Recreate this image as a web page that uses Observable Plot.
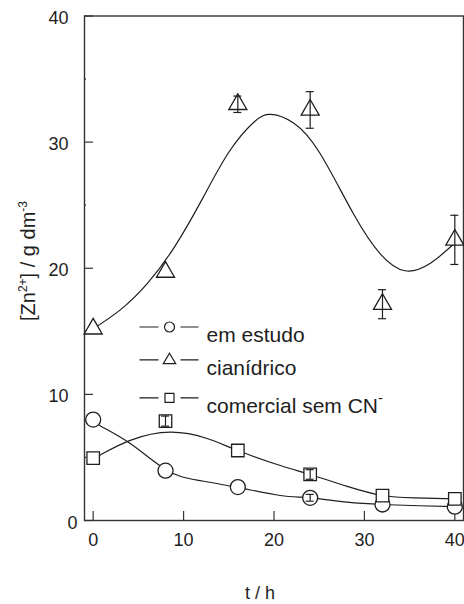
<!DOCTYPE html>
<html>
<head>
<meta charset="utf-8">
<script src="https://cdn.jsdelivr.net/npm/d3@7"></script>
<script src="https://cdn.jsdelivr.net/npm/@observablehq/plot@0.6"></script>
<style>
  html, body { margin: 0; padding: 0; background: #fff; }
  #chart { width: 464px; height: 604px; }
</style>
</head>
<body>
<div id="chart"></div>
<script>
// ---- data ----
const times = [0, 8, 16, 24, 32, 40];
const emEstudo = [8.0, 3.95, 2.65, 1.8, 1.27, 1.1];
const cianidrico = [15.2, 19.7, 33.0, 32.55, 17.15, 22.25];
const comercial = [4.95, 7.88, 5.55, 3.65, 1.98, 1.72];
const errEmEstudo = [0, 0, 0, 0.27, 0, 0];
const errCianidrico = [0, 0, 0.65, 1.45, 1.15, 1.95];
const errComercial = [0, 0.4, 0, 0.38, 0, 0];

// fitted curves
const emCurveT = [0, 0.8, 4.1, 8.1, 11.5, 16, 20.7, 24, 28.1, 32, 36, 40];
const emCurveV = [8.0, 7.5, 6.1, 4.0, 3.2, 2.62, 1.98, 1.8, 1.45, 1.27, 1.17, 1.1];
const cianCurveT = [0, 3, 6, 9, 12, 15, 17.8, 19.7, 22.2, 25.1, 28.8, 31.8, 34.5, 37.3, 40];
const cianCurveV = [15.2, 16.7, 18.8, 21.7, 25.4, 29.2, 31.6, 32.2, 31.5, 29.1, 24.3, 21.1, 19.8, 20.4, 22.0];
const comCurveT = [0, 0.8, 4.1, 8.55, 12.6, 16, 20.7, 24, 28.1, 32, 35.5, 40];
const comCurveV = [4.95, 5.2, 6.35, 7.0, 6.5, 5.55, 4.36, 3.65, 2.7, 1.98, 1.8, 1.72];

const xTicks = [0, 10, 20, 30, 40];
const yTicks = [0, 10, 20, 30, 40];
const yMinorTicks = [5, 15, 25, 35];

const seriesNames = ["em estudo", "cianídrico", "comercial sem CN"];
const seriesShapes = ["circle", "triangle", "square"];

// ---- tables ----
const pts = [];
[emEstudo, cianidrico, comercial].forEach((vals, s) => {
  const errs = [errEmEstudo, errCianidrico, errComercial][s];
  vals.forEach((v, i) => pts.push({series: seriesNames[s], shape: seriesShapes[s], t: times[i], v, e: errs[i]}));
});
const errPts = pts.filter(d => d.e > 0);
const caps = errPts.flatMap(d => [{t: d.t, y: d.v - d.e}, {t: d.t, y: d.v + d.e}]);
const curves = [];
[[emCurveT, emCurveV], [cianCurveT, cianCurveV], [comCurveT, comCurveV]].forEach(([T, V], s) => {
  T.forEach((t, i) => curves.push({series: seriesNames[s], t, v: V[i]}));
});

const rSize = {circle: 7.5, triangle: 6.7, square: 7.05};

function legendSymbol(shape) {
  return {
    draw(ctx) {
      ctx.moveTo(-30, 0); ctx.lineTo(-11, 0);
      ctx.moveTo(11, 0); ctx.lineTo(29, 0);
      if (shape === "circle") { ctx.moveTo(5, 0); ctx.arc(0, 0, 5, 0, 2 * Math.PI); }
      else if (shape === "square") { ctx.rect(-4.5, -4.5, 9, 9); }
      else { ctx.moveTo(0, -6.6); ctx.lineTo(6.2, 3.8); ctx.lineTo(-6.2, 3.8); ctx.closePath(); }
    }
  };
}
const legendDy = [311, 343.8, 381.8];

const ink = "#1e1e1e";
const legendMarks = seriesNames.flatMap((name, i) => [
  Plot.dot([name], {frameAnchor: "top-left", dx: 85, dy: legendDy[i], symbol: legendSymbol(seriesShapes[i]), r: 1, stroke: ink, strokeWidth: 1.2, fill: "white"}),
  Plot.text([name], {frameAnchor: "top-left", dx: 122, dy: legendDy[i] + 0.5, text: d => d, textAnchor: "start", fontSize: 21, fill: ink})
]);

const dotMarks = seriesShapes.map(shape =>
  Plot.dot(pts.filter(d => d.shape === shape), {x: "t", y: "v", symbol: shape, r: rSize[shape], stroke: ink, strokeWidth: 1.3, fill: "white"})
);

const chart = Plot.plot({
  width: 464,
  height: 604,
  marginLeft: 84,
  marginRight: 1,
  marginTop: 15.5,
  marginBottom: 84,
  x: {domain: [-0.96, 40.96]},
  y: {domain: [0, 40]},
  style: {fontFamily: "'Liberation Sans', Arial, sans-serif", fontSize: "18px", color: ink, background: "white"},
  marks: [
    Plot.frame({stroke: "#333", strokeWidth: 1.4}),
    Plot.tickX(xTicks, {x: d => d, insetTop: 495.5, stroke: "#333", strokeWidth: 1.2}),
    Plot.tickY(yTicks, {y: d => d, insetRight: 370, stroke: "#333", strokeWidth: 1.2}),
    Plot.tickY(yMinorTicks, {y: d => d, insetRight: 377, stroke: "#333", strokeWidth: 1.2}),
    Plot.axisX(xTicks, {tickSize: 0, tickPadding: 13, label: null, fontSize: 18}),
    Plot.axisY(yTicks.filter(d => d > 0), {tickSize: 0, tickPadding: 16, dy: 2, label: null, fontSize: 18}),
    Plot.axisY(yTicks.filter(d => d === 0), {tickSize: 0, tickPadding: 7, dy: 3, label: null, fontSize: 18}),
    Plot.line(curves, {x: "t", y: "v", z: "series", curve: "natural", stroke: ink, strokeWidth: 1.2}),
    ...dotMarks,
    Plot.ruleX(errPts, {x: "t", y1: d => d.v - d.e, y2: d => d.v + d.e, stroke: ink, strokeWidth: 1.2}),
    Plot.ruleY(caps, {y: "y", x1: "t", x2: "t", insetLeft: -4, insetRight: -4, stroke: ink, strokeWidth: 1.2}),
    ...legendMarks
  ]
});

document.getElementById("chart").appendChild(chart);

const svg = d3.select(chart);
// superscript minus on CN
svg.selectAll("text").filter(function () { return this.textContent === "comercial sem CN"; })
  .append("tspan").attr("dy", "-10").attr("font-size", "15").text("-");

// y axis label
const yl = svg.append("text")
  .attr("transform", "translate(35,261) rotate(-90)")
  .attr("text-anchor", "middle")
  .attr("font-family", "'Liberation Sans', Arial, sans-serif")
  .attr("font-size", 20)
  .attr("fill", ink);
yl.append("tspan").text("[Zn");
yl.append("tspan").attr("dy", -8).attr("font-size", 12).text("2+");
yl.append("tspan").attr("dy", 8).text("] / g dm");
yl.append("tspan").attr("dy", -8).attr("font-size", 12).text("-3");

// x axis label
svg.append("text")
  .attr("x", 260).attr("y", 599)
  .attr("text-anchor", "middle")
  .attr("font-family", "'Liberation Sans', Arial, sans-serif")
  .attr("font-size", 18)
  .attr("fill", ink)
  .text("t / h");
</script>
</body>
</html>
